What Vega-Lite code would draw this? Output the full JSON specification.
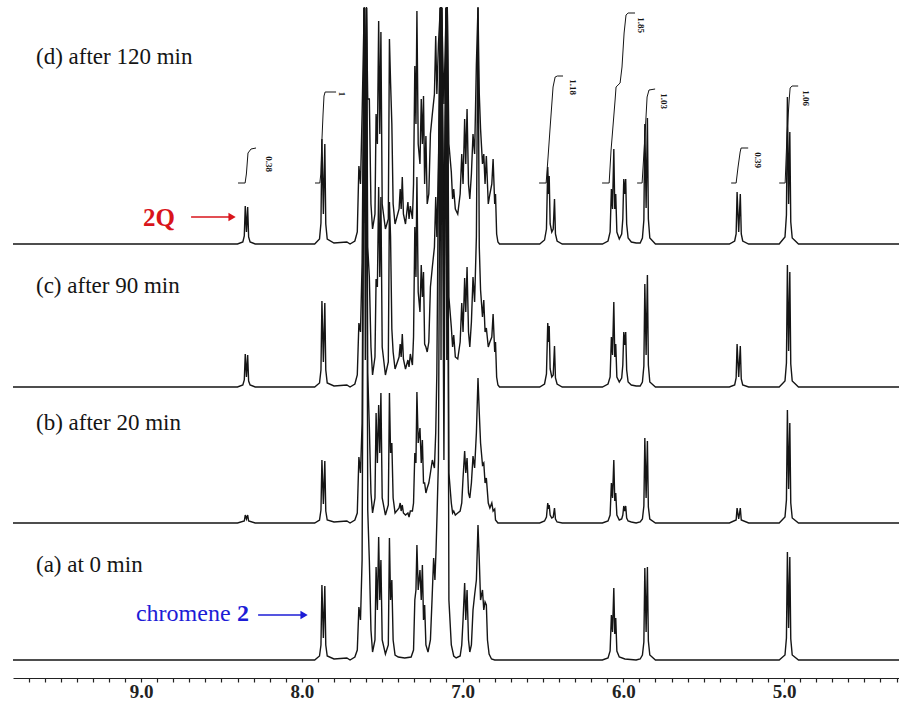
{
  "$schema": "https://vega.github.io/schema/vega-lite/v6.json",
  "padding": {"left": 10, "top": 0, "right": 0, "bottom": 0},
  "background": "white",
  "spacing": 0,
  "bounds": "flush",
  "config": {"view": {"stroke": null}},
  "datasets": {
    "d": [
      {"x":9.797,"y":0},
      {"x":8.40,"y":0},{"x":8.367,"y":2},{"x":8.358,"y":8},{"x":8.352,"y":38},{"x":8.3445,"y":12},{"x":8.337,"y":37},{"x":8.331,"y":7},{"x":8.322,"y":2},{"x":8.29,"y":0},
      {"x":7.92,"y":0},{"x":7.89,"y":5},{"x":7.881,"y":21},{"x":7.875,"y":105},{"x":7.866,"y":30},{"x":7.857,"y":100},{"x":7.851,"y":20},{"x":7.842,"y":5},{"x":7.80,"y":1},{"x":7.72,"y":2},
      {"x":7.70,"y":0},{"x":7.67,"y":3},{"x":7.655,"y":12},{"x":7.645,"y":78},{"x":7.635,"y":60},{"x":7.625,"y":130},{"x":7.612,"y":237},{"x":7.605,"y":150},{"x":7.598,"y":237},{"x":7.59,"y":145},{"x":7.58,"y":145},{"x":7.57,"y":40},{"x":7.56,"y":15},{"x":7.545,"y":30},{"x":7.538,"y":130},{"x":7.53,"y":100},{"x":7.522,"y":223},{"x":7.515,"y":110},{"x":7.508,"y":212},{"x":7.50,"y":40},{"x":7.48,"y":15},{"x":7.462,"y":25},{"x":7.455,"y":205},{"x":7.448,"y":162},{"x":7.44,"y":120},{"x":7.432,"y":40},{"x":7.42,"y":20},{"x":7.395,"y":35},{"x":7.388,"y":55},{"x":7.382,"y":35},{"x":7.375,"y":67},{"x":7.368,"y":30},{"x":7.355,"y":20},{"x":7.34,"y":42},{"x":7.333,"y":25},{"x":7.325,"y":38},{"x":7.312,"y":25},{"x":7.305,"y":60},{"x":7.297,"y":178},{"x":7.29,"y":120},{"x":7.284,"y":233},{"x":7.276,"y":100},{"x":7.265,"y":80},{"x":7.257,"y":145},{"x":7.25,"y":100},{"x":7.243,"y":148},{"x":7.236,"y":60},{"x":7.228,"y":108},{"x":7.22,"y":40},{"x":7.21,"y":50},{"x":7.20,"y":110},{"x":7.188,"y":130},{"x":7.175,"y":150},{"x":7.167,"y":208},{"x":7.16,"y":150},{"x":7.15,"y":200},{"x":7.138,"y":237},{"x":7.134,"y":180},{"x":7.130,"y":237},{"x":7.116,"y":140},{"x":7.102,"y":237},{"x":7.098,"y":190},{"x":7.095,"y":237},{"x":7.085,"y":100},{"x":7.07,"y":72},{"x":7.062,"y":45},{"x":7.055,"y":55},{"x":7.045,"y":35},{"x":7.03,"y":30},{"x":7.015,"y":50},{"x":7.005,"y":90},{"x":6.997,"y":60},{"x":6.987,"y":125},{"x":6.98,"y":80},{"x":6.972,"y":135},{"x":6.963,"y":60},{"x":6.955,"y":45},{"x":6.945,"y":70},{"x":6.935,"y":110},{"x":6.925,"y":90},{"x":6.914,"y":180},{"x":6.904,"y":237},{"x":6.896,"y":150},{"x":6.888,"y":115},{"x":6.876,"y":80},{"x":6.868,"y":90},{"x":6.86,"y":60},{"x":6.852,"y":88},{"x":6.84,"y":40},{"x":6.83,"y":50},{"x":6.818,"y":60},{"x":6.81,"y":85},{"x":6.80,"y":40},{"x":6.795,"y":50},{"x":6.788,"y":10},{"x":6.78,"y":2},{"x":6.77,"y":0},
      {"x":6.52,"y":0},{"x":6.49,"y":4},{"x":6.478,"y":15},{"x":6.47,"y":77},{"x":6.465,"y":50},{"x":6.461,"y":68},{"x":6.455,"y":20},{"x":6.445,"y":12},{"x":6.436,"y":15},{"x":6.428,"y":45},{"x":6.422,"y":10},{"x":6.412,"y":3},{"x":6.38,"y":0},
      {"x":6.13,"y":0},{"x":6.095,"y":3},{"x":6.082,"y":12},{"x":6.074,"y":55},{"x":6.067,"y":35},{"x":6.059,"y":95},{"x":6.053,"y":35},{"x":6.047,"y":50},{"x":6.04,"y":12},{"x":6.025,"y":5},{"x":6.01,"y":10},{"x":6.003,"y":25},{"x":5.997,"y":65},{"x":5.991,"y":50},{"x":5.985,"y":65},{"x":5.979,"y":20},{"x":5.97,"y":6},{"x":5.95,"y":2},{"x":5.92,"y":1},
      {"x":5.895,"y":1},{"x":5.881,"y":6},{"x":5.872,"y":24},{"x":5.866,"y":120},{"x":5.858,"y":36},{"x":5.85,"y":126},{"x":5.844,"y":25},{"x":5.835,"y":6},{"x":5.80,"y":0},
      {"x":5.34,"y":0},{"x":5.307,"y":3},{"x":5.298,"y":10},{"x":5.292,"y":52},{"x":5.282,"y":12},{"x":5.272,"y":50},{"x":5.266,"y":10},{"x":5.257,"y":3},{"x":5.22,"y":0},
      {"x":5.03,"y":0},{"x":4.994,"y":7},{"x":4.985,"y":29},{"x":4.979,"y":147},{"x":4.9715,"y":40},{"x":4.964,"y":112},{"x":4.958,"y":22},{"x":4.949,"y":6},{"x":4.91,"y":0},
      {"x":4.266,"y":0}
    ],
    "c": [
      {"x":9.797,"y":0},
      {"x":8.40,"y":0},{"x":8.367,"y":2},{"x":8.358,"y":7},{"x":8.352,"y":33},{"x":8.3445,"y":10},{"x":8.337,"y":32},{"x":8.331,"y":6},{"x":8.322,"y":2},{"x":8.29,"y":0},
      {"x":7.92,"y":0},{"x":7.89,"y":4},{"x":7.881,"y":17},{"x":7.875,"y":86},{"x":7.866,"y":25},{"x":7.857,"y":84},{"x":7.851,"y":17},{"x":7.842,"y":4},{"x":7.80,"y":1},{"x":7.72,"y":2},
      {"x":7.70,"y":0},{"x":7.67,"y":3},{"x":7.655,"y":12},{"x":7.645,"y":64},{"x":7.635,"y":55},{"x":7.625,"y":125},{"x":7.612,"y":379},{"x":7.605,"y":220},{"x":7.598,"y":379},{"x":7.59,"y":140},{"x":7.58,"y":110},{"x":7.57,"y":40},{"x":7.56,"y":12},{"x":7.545,"y":30},{"x":7.538,"y":108},{"x":7.53,"y":100},{"x":7.522,"y":200},{"x":7.515,"y":110},{"x":7.508,"y":190},{"x":7.50,"y":40},{"x":7.48,"y":12},{"x":7.462,"y":25},{"x":7.455,"y":185},{"x":7.448,"y":150},{"x":7.44,"y":58},{"x":7.432,"y":35},{"x":7.42,"y":18},{"x":7.395,"y":30},{"x":7.388,"y":43},{"x":7.382,"y":30},{"x":7.375,"y":53},{"x":7.368,"y":28},{"x":7.355,"y":18},{"x":7.34,"y":27},{"x":7.333,"y":20},{"x":7.325,"y":33},{"x":7.312,"y":22},{"x":7.305,"y":50},{"x":7.297,"y":160},{"x":7.29,"y":110},{"x":7.284,"y":210},{"x":7.276,"y":95},{"x":7.265,"y":75},{"x":7.257,"y":122},{"x":7.25,"y":90},{"x":7.243,"y":115},{"x":7.236,"y":43},{"x":7.228,"y":40},{"x":7.22,"y":35},{"x":7.21,"y":45},{"x":7.20,"y":100},{"x":7.188,"y":120},{"x":7.175,"y":140},{"x":7.167,"y":190},{"x":7.16,"y":150},{"x":7.15,"y":220},{"x":7.138,"y":379},{"x":7.134,"y":250},{"x":7.130,"y":379},{"x":7.116,"y":150},{"x":7.102,"y":379},{"x":7.098,"y":250},{"x":7.095,"y":379},{"x":7.085,"y":90},{"x":7.07,"y":60},{"x":7.062,"y":40},{"x":7.055,"y":52},{"x":7.045,"y":30},{"x":7.03,"y":28},{"x":7.015,"y":45},{"x":7.005,"y":84},{"x":6.997,"y":55},{"x":6.987,"y":109},{"x":6.98,"y":75},{"x":6.972,"y":120},{"x":6.963,"y":55},{"x":6.955,"y":40},{"x":6.945,"y":65},{"x":6.935,"y":110},{"x":6.925,"y":85},{"x":6.914,"y":150},{"x":6.904,"y":379},{"x":6.896,"y":140},{"x":6.888,"y":97},{"x":6.876,"y":70},{"x":6.868,"y":87},{"x":6.86,"y":55},{"x":6.852,"y":59},{"x":6.84,"y":40},{"x":6.83,"y":45},{"x":6.818,"y":50},{"x":6.81,"y":73},{"x":6.80,"y":35},{"x":6.795,"y":45},{"x":6.788,"y":10},{"x":6.78,"y":2},{"x":6.77,"y":0},
      {"x":6.52,"y":0},{"x":6.49,"y":3},{"x":6.478,"y":13},{"x":6.47,"y":64},{"x":6.465,"y":45},{"x":6.461,"y":61},{"x":6.455,"y":18},{"x":6.445,"y":10},{"x":6.436,"y":12},{"x":6.428,"y":41},{"x":6.422,"y":9},{"x":6.412,"y":3},{"x":6.38,"y":0},
      {"x":6.13,"y":0},{"x":6.095,"y":3},{"x":6.082,"y":10},{"x":6.074,"y":50},{"x":6.067,"y":32},{"x":6.059,"y":85},{"x":6.053,"y":30},{"x":6.047,"y":43},{"x":6.04,"y":10},{"x":6.025,"y":5},{"x":6.01,"y":9},{"x":6.003,"y":22},{"x":5.997,"y":55},{"x":5.991,"y":42},{"x":5.985,"y":55},{"x":5.979,"y":17},{"x":5.97,"y":5},{"x":5.95,"y":2},{"x":5.92,"y":1},
      {"x":5.895,"y":1},{"x":5.881,"y":5},{"x":5.872,"y":21},{"x":5.866,"y":103},{"x":5.858,"y":32},{"x":5.85,"y":112},{"x":5.844,"y":22},{"x":5.835,"y":5},{"x":5.80,"y":0},
      {"x":5.34,"y":0},{"x":5.307,"y":2},{"x":5.298,"y":9},{"x":5.292,"y":43},{"x":5.282,"y":10},{"x":5.272,"y":41},{"x":5.266,"y":8},{"x":5.257,"y":2},{"x":5.22,"y":0},
      {"x":5.03,"y":0},{"x":4.994,"y":6},{"x":4.985,"y":24},{"x":4.979,"y":122},{"x":4.9715,"y":36},{"x":4.964,"y":115},{"x":4.958,"y":23},{"x":4.949,"y":6},{"x":4.91,"y":0},
      {"x":4.266,"y":0}
    ],
    "b": [
      {"x":9.797,"y":0},
      {"x":8.40,"y":0},{"x":8.358,"y":2},{"x":8.352,"y":8},{"x":8.3445,"y":4},{"x":8.337,"y":8},{"x":8.331,"y":2},{"x":8.29,"y":0},
      {"x":7.92,"y":0},{"x":7.89,"y":3},{"x":7.881,"y":13},{"x":7.875,"y":63},{"x":7.866,"y":19},{"x":7.857,"y":62},{"x":7.851,"y":12},{"x":7.842,"y":3},{"x":7.80,"y":1},{"x":7.72,"y":2},
      {"x":7.70,"y":0},{"x":7.67,"y":3},{"x":7.655,"y":10},{"x":7.645,"y":66},{"x":7.635,"y":50},{"x":7.625,"y":100},{"x":7.612,"y":515},{"x":7.605,"y":300},{"x":7.598,"y":515},{"x":7.59,"y":150},{"x":7.58,"y":96},{"x":7.57,"y":30},{"x":7.56,"y":10},{"x":7.545,"y":25},{"x":7.538,"y":110},{"x":7.53,"y":60},{"x":7.522,"y":118},{"x":7.515,"y":70},{"x":7.508,"y":130},{"x":7.50,"y":25},{"x":7.48,"y":8},{"x":7.462,"y":18},{"x":7.455,"y":130},{"x":7.448,"y":70},{"x":7.44,"y":80},{"x":7.432,"y":25},{"x":7.42,"y":10},{"x":7.395,"y":15},{"x":7.388,"y":20},{"x":7.382,"y":12},{"x":7.375,"y":18},{"x":7.368,"y":10},{"x":7.355,"y":8},{"x":7.34,"y":10},{"x":7.333,"y":6},{"x":7.325,"y":12},{"x":7.312,"y":12},{"x":7.305,"y":20},{"x":7.297,"y":70},{"x":7.29,"y":60},{"x":7.284,"y":131},{"x":7.276,"y":80},{"x":7.265,"y":95},{"x":7.257,"y":60},{"x":7.25,"y":83},{"x":7.243,"y":40},{"x":7.236,"y":40},{"x":7.228,"y":30},{"x":7.22,"y":35},{"x":7.21,"y":40},{"x":7.20,"y":50},{"x":7.188,"y":63},{"x":7.175,"y":55},{"x":7.167,"y":90},{"x":7.16,"y":150},{"x":7.15,"y":350},{"x":7.138,"y":515},{"x":7.134,"y":300},{"x":7.130,"y":515},{"x":7.116,"y":200},{"x":7.102,"y":515},{"x":7.098,"y":300},{"x":7.095,"y":515},{"x":7.085,"y":50},{"x":7.07,"y":20},{"x":7.062,"y":10},{"x":7.055,"y":12},{"x":7.045,"y":8},{"x":7.03,"y":10},{"x":7.015,"y":12},{"x":7.005,"y":20},{"x":6.997,"y":45},{"x":6.987,"y":72},{"x":6.98,"y":50},{"x":6.972,"y":65},{"x":6.963,"y":30},{"x":6.955,"y":25},{"x":6.945,"y":40},{"x":6.935,"y":67},{"x":6.925,"y":55},{"x":6.914,"y":90},{"x":6.904,"y":145},{"x":6.896,"y":110},{"x":6.888,"y":80},{"x":6.876,"y":58},{"x":6.868,"y":60},{"x":6.86,"y":40},{"x":6.852,"y":45},{"x":6.84,"y":20},{"x":6.83,"y":15},{"x":6.818,"y":20},{"x":6.81,"y":12},{"x":6.80,"y":14},{"x":6.795,"y":3},{"x":6.78,"y":0},
      {"x":6.52,"y":0},{"x":6.49,"y":2},{"x":6.478,"y":6},{"x":6.47,"y":20},{"x":6.465,"y":14},{"x":6.461,"y":18},{"x":6.455,"y":8},{"x":6.445,"y":5},{"x":6.436,"y":6},{"x":6.428,"y":15},{"x":6.422,"y":4},{"x":6.412,"y":1},{"x":6.38,"y":0},
      {"x":6.13,"y":0},{"x":6.095,"y":2},{"x":6.082,"y":8},{"x":6.074,"y":40},{"x":6.067,"y":25},{"x":6.059,"y":63},{"x":6.053,"y":22},{"x":6.047,"y":30},{"x":6.04,"y":8},{"x":6.025,"y":3},{"x":6.01,"y":4},{"x":6.003,"y":8},{"x":5.997,"y":17},{"x":5.991,"y":12},{"x":5.985,"y":17},{"x":5.979,"y":5},{"x":5.97,"y":2},{"x":5.95,"y":1},{"x":5.92,"y":0},
      {"x":5.895,"y":1},{"x":5.881,"y":4},{"x":5.872,"y":17},{"x":5.866,"y":85},{"x":5.858,"y":25},{"x":5.85,"y":82},{"x":5.844,"y":16},{"x":5.835,"y":4},{"x":5.80,"y":0},
      {"x":5.34,"y":0},{"x":5.298,"y":3},{"x":5.292,"y":15},{"x":5.282,"y":4},{"x":5.272,"y":15},{"x":5.266,"y":3},{"x":5.22,"y":0},
      {"x":5.03,"y":0},{"x":4.994,"y":6},{"x":4.985,"y":23},{"x":4.979,"y":113},{"x":4.9715,"y":34},{"x":4.964,"y":100},{"x":4.958,"y":20},{"x":4.949,"y":5},{"x":4.91,"y":0},
      {"x":4.266,"y":0}
    ],
    "a": [
      {"x":9.797,"y":0},
      {"x":7.92,"y":0},{"x":7.89,"y":4},{"x":7.881,"y":15},{"x":7.875,"y":75},{"x":7.866,"y":22},{"x":7.857,"y":74},{"x":7.851,"y":15},{"x":7.842,"y":4},{"x":7.80,"y":1},{"x":7.72,"y":2},
      {"x":7.70,"y":0},{"x":7.67,"y":3},{"x":7.655,"y":10},{"x":7.645,"y":53},{"x":7.635,"y":40},{"x":7.625,"y":100},{"x":7.612,"y":652},{"x":7.605,"y":300},{"x":7.598,"y":652},{"x":7.59,"y":150},{"x":7.58,"y":100},{"x":7.57,"y":30},{"x":7.56,"y":8},{"x":7.545,"y":20},{"x":7.538,"y":93},{"x":7.53,"y":50},{"x":7.522,"y":123},{"x":7.515,"y":60},{"x":7.508,"y":100},{"x":7.50,"y":20},{"x":7.48,"y":6},{"x":7.462,"y":15},{"x":7.455,"y":122},{"x":7.448,"y":60},{"x":7.44,"y":80},{"x":7.432,"y":20},{"x":7.42,"y":5},{"x":7.40,"y":3},{"x":7.36,"y":2},{"x":7.32,"y":3},{"x":7.305,"y":10},{"x":7.297,"y":60},{"x":7.29,"y":70},{"x":7.284,"y":115},{"x":7.276,"y":70},{"x":7.265,"y":90},{"x":7.257,"y":60},{"x":7.25,"y":95},{"x":7.243,"y":40},{"x":7.236,"y":55},{"x":7.228,"y":15},{"x":7.215,"y":8},{"x":7.20,"y":20},{"x":7.19,"y":60},{"x":7.18,"y":102},{"x":7.172,"y":80},{"x":7.165,"y":110},{"x":7.158,"y":150},{"x":7.15,"y":200},{"x":7.138,"y":652},{"x":7.134,"y":300},{"x":7.130,"y":652},{"x":7.116,"y":200},{"x":7.102,"y":652},{"x":7.098,"y":300},{"x":7.095,"y":652},{"x":7.085,"y":60},{"x":7.07,"y":15},{"x":7.055,"y":4},{"x":7.04,"y":2},{"x":7.015,"y":4},{"x":7.005,"y":15},{"x":6.997,"y":40},{"x":6.987,"y":77},{"x":6.98,"y":40},{"x":6.972,"y":70},{"x":6.963,"y":20},{"x":6.955,"y":8},{"x":6.945,"y":15},{"x":6.935,"y":50},{"x":6.925,"y":65},{"x":6.914,"y":80},{"x":6.904,"y":135},{"x":6.896,"y":100},{"x":6.888,"y":60},{"x":6.876,"y":70},{"x":6.868,"y":50},{"x":6.86,"y":58},{"x":6.852,"y":55},{"x":6.845,"y":20},{"x":6.835,"y":6},{"x":6.82,"y":1},{"x":6.80,"y":0},
      {"x":6.13,"y":0},{"x":6.095,"y":2},{"x":6.082,"y":9},{"x":6.074,"y":45},{"x":6.067,"y":28},{"x":6.059,"y":72},{"x":6.053,"y":26},{"x":6.047,"y":42},{"x":6.04,"y":9},{"x":6.025,"y":3},{"x":5.99,"y":1},{"x":5.92,"y":0},
      {"x":5.895,"y":1},{"x":5.881,"y":5},{"x":5.872,"y":18},{"x":5.866,"y":92},{"x":5.858,"y":28},{"x":5.85,"y":93},{"x":5.844,"y":19},{"x":5.835,"y":5},{"x":5.80,"y":0},
      {"x":5.03,"y":0},{"x":4.994,"y":5},{"x":4.985,"y":22},{"x":4.979,"y":108},{"x":4.9715,"y":32},{"x":4.964,"y":103},{"x":4.958,"y":21},{"x":4.949,"y":5},{"x":4.91,"y":0},
      {"x":4.266,"y":0}
    ],
    "integ": [
      {"g":"q","x":8.397,"y":61},{"g":"q","x":8.353,"y":61},{"g":"q","x":8.345,"y":70},{"g":"q","x":8.335,"y":91},{"g":"q","x":8.316,"y":95},{"g":"q","x":8.285,"y":96},
      {"g":"c","x":7.918,"y":61},{"g":"c","x":7.888,"y":61},{"g":"c","x":7.882,"y":70},{"g":"c","x":7.876,"y":100},{"g":"c","x":7.868,"y":130},{"g":"c","x":7.862,"y":148},{"g":"c","x":7.855,"y":152},{"g":"c","x":7.787,"y":152},
      {"g":"m1","x":6.524,"y":61},{"g":"m1","x":6.48,"y":61},{"g":"m1","x":6.468,"y":87},{"g":"m1","x":6.455,"y":117},{"g":"m1","x":6.437,"y":157},{"g":"m1","x":6.424,"y":167},{"g":"m1","x":6.41,"y":168},{"g":"m1","x":6.375,"y":168},
      {"g":"m2","x":6.132,"y":61},{"g":"m2","x":6.088,"y":61},{"g":"m2","x":6.076,"y":94},{"g":"m2","x":6.051,"y":144},{"g":"m2","x":6.045,"y":157},{"g":"m2","x":6.02,"y":161},{"g":"m2","x":6.008,"y":177},{"g":"m2","x":5.995,"y":211},{"g":"m2","x":5.983,"y":229},{"g":"m2","x":5.97,"y":231},{"g":"m2","x":5.927,"y":231},
      {"g":"m3","x":5.914,"y":61},{"g":"m3","x":5.883,"y":61},{"g":"m3","x":5.864,"y":111},{"g":"m3","x":5.852,"y":147},{"g":"m3","x":5.84,"y":154},{"g":"m3","x":5.802,"y":155},
      {"g":"m4","x":5.329,"y":61},{"g":"m4","x":5.298,"y":61},{"g":"m4","x":5.286,"y":77},{"g":"m4","x":5.273,"y":92},{"g":"m4","x":5.267,"y":96},{"g":"m4","x":5.223,"y":96},
      {"g":"m5","x":5.03,"y":61},{"g":"m5","x":4.993,"y":61},{"g":"m5","x":4.981,"y":111},{"g":"m5","x":4.968,"y":144},{"g":"m5","x":4.962,"y":156},{"g":"m5","x":4.95,"y":158},{"g":"m5","x":4.912,"y":158}
    ],
    "intlab": [
      {"x":8.204,"y":80,"t":"0.38"},{"x":7.75,"y":150,"t":"1"},{"x":6.312,"y":157,"t":"1.18"},{"x":5.889,"y":219,"t":"1.85"},{"x":5.746,"y":143,"t":"1.03"},{"x":5.161,"y":84,"t":"0.39"},{"x":4.862,"y":146,"t":"1.06"}
    ]
  },
  "vconcat": [
    {
      "width": 889, "height": 256,
      "encoding": {
        "x": {"field": "x", "type": "quantitative", "scale": {"domain": [4.266, 9.797], "reverse": true, "nice": false, "zero": false}, "axis": null},
        "y": {"field": "y", "type": "quantitative", "scale": {"domain": [-12, 244], "nice": false, "zero": false}, "axis": null}
      },
      "layer": [
        {"data": {"name": "d"}, "mark": {"type": "line", "clip": false, "color": "#151515", "strokeWidth": 1.4}},
        {"data": {"name": "integ"}, "mark": {"type": "line", "clip": false, "color": "#151515", "strokeWidth": 1}, "encoding": {"detail": {"field": "g"}}},
        {"data": {"name": "intlab"}, "mark": {"type": "text", "angle": 90, "align": "center", "baseline": "middle", "font": "Liberation Serif", "fontWeight": "bold", "fontSize": 9, "color": "#151515"}, "encoding": {"text": {"field": "t"}}},
        {"data": {"values": [{"x": 9.654, "y": 180, "t": "(d) after 120 min"}]}, "mark": {"type": "text", "align": "left", "baseline": "alphabetic", "font": "Liberation Serif", "fontSize": 23, "color": "#151515"}, "encoding": {"text": {"field": "t"}}},
        {"data": {"values": [{"x": 8.988, "y": 18, "t": "2Q"}]}, "mark": {"type": "text", "align": "left", "baseline": "alphabetic", "font": "Liberation Serif", "fontWeight": "bold", "fontSize": 25, "color": "#d9141b"}, "encoding": {"text": {"field": "t"}}},
        {"data": {"values": [{"x": 8.689, "x2": 8.45, "y": 27}]}, "mark": {"type": "rule", "color": "#d9141b", "strokeWidth": 1.6}, "encoding": {"x2": {"field": "x2"}}},
        {"data": {"values": [{"x": 8.434, "y": 27}]}, "mark": {"type": "point", "shape": "triangle-right", "filled": true, "size": 70, "color": "#d9141b", "opacity": 1}}
      ]
    },
    {
      "width": 889, "height": 143,
      "encoding": {
        "x": {"field": "x", "type": "quantitative", "scale": {"domain": [4.266, 9.797], "reverse": true, "nice": false, "zero": false}, "axis": null},
        "y": {"field": "y", "type": "quantitative", "scale": {"domain": [-12, 131], "nice": false, "zero": false}, "axis": null}
      },
      "layer": [
        {"data": {"name": "c"}, "mark": {"type": "line", "clip": false, "color": "#151515", "strokeWidth": 1.4}},
        {"data": {"values": [{"x": 9.654, "y": 94, "t": "(c) after 90 min"}]}, "mark": {"type": "text", "align": "left", "baseline": "alphabetic", "font": "Liberation Serif", "fontSize": 23, "color": "#151515"}, "encoding": {"text": {"field": "t"}}}
      ]
    },
    {
      "width": 889, "height": 136,
      "encoding": {
        "x": {"field": "x", "type": "quantitative", "scale": {"domain": [4.266, 9.797], "reverse": true, "nice": false, "zero": false}, "axis": null},
        "y": {"field": "y", "type": "quantitative", "scale": {"domain": [-12, 124], "nice": false, "zero": false}, "axis": null}
      },
      "layer": [
        {"data": {"name": "b"}, "mark": {"type": "line", "clip": false, "color": "#151515", "strokeWidth": 1.4}},
        {"data": {"values": [{"x": 9.654, "y": 93, "t": "(b) after 20 min"}]}, "mark": {"type": "text", "align": "left", "baseline": "alphabetic", "font": "Liberation Serif", "fontSize": 23, "color": "#151515"}, "encoding": {"text": {"field": "t"}}}
      ]
    },
    {
      "width": 889, "height": 137,
      "encoding": {
        "x": {"field": "x", "type": "quantitative", "scale": {"domain": [4.266, 9.797], "reverse": true, "nice": false, "zero": false},
          "axis": {"title": null, "orient": "bottom", "offset": 6, "grid": false, "domainColor": "#222", "domainWidth": 1.2, "tickColor": "#222", "tickSize": 4, "tickWidth": 1.2,
            "values": [4.3,4.4,4.5,4.6,4.7,4.8,4.9,5,5.1,5.2,5.3,5.4,5.5,5.6,5.7,5.8,5.9,6,6.1,6.2,6.3,6.4,6.5,6.6,6.7,6.8,6.9,7,7.1,7.2,7.3,7.4,7.5,7.6,7.7,7.8,7.9,8,8.1,8.2,8.3,8.4,8.5,8.6,8.7,8.8,8.9,9,9.1,9.2,9.3,9.4,9.5,9.6,9.7],
            "labelExpr": "abs(datum.value - round(datum.value)) < 0.001 ? format(datum.value, '.1f') : ''",
            "labelOverlap": false, "labelFlush": false, "labelFont": "Liberation Serif", "labelFontWeight": "bold", "labelFontSize": 19, "labelColor": "#222", "labelPadding": 0}},
        "y": {"field": "y", "type": "quantitative", "scale": {"domain": [-12, 125], "nice": false, "zero": false}, "axis": null}
      },
      "layer": [
        {"data": {"name": "a"}, "mark": {"type": "line", "clip": false, "color": "#151515", "strokeWidth": 1.4}},
        {"data": {"values": [{"x": 9.654, "y": 88, "t": "(a) at 0 min"}]}, "mark": {"type": "text", "align": "left", "baseline": "alphabetic", "font": "Liberation Serif", "fontSize": 23, "color": "#151515"}, "encoding": {"text": {"field": "t"}}},
        {"data": {"values": [{"x": 9.032, "y": 39, "t": "chromene"}]}, "mark": {"type": "text", "align": "left", "baseline": "alphabetic", "font": "Liberation Serif", "fontSize": 24, "color": "#1c1cd6"}, "encoding": {"text": {"field": "t"}}},
        {"data": {"values": [{"x": 8.403, "y": 39, "t": "2"}]}, "mark": {"type": "text", "align": "left", "baseline": "alphabetic", "font": "Liberation Serif", "fontWeight": "bold", "fontSize": 24, "color": "#1c1cd6"}, "encoding": {"text": {"field": "t"}}},
        {"data": {"values": [{"x": 8.272, "x2": 8.0, "y": 45}]}, "mark": {"type": "rule", "color": "#1c1cd6", "strokeWidth": 1.6}, "encoding": {"x2": {"field": "x2"}}},
        {"data": {"values": [{"x": 7.986, "y": 45}]}, "mark": {"type": "point", "shape": "triangle-right", "filled": true, "size": 70, "color": "#1c1cd6", "opacity": 1}}
      ]
    }
  ]
}
